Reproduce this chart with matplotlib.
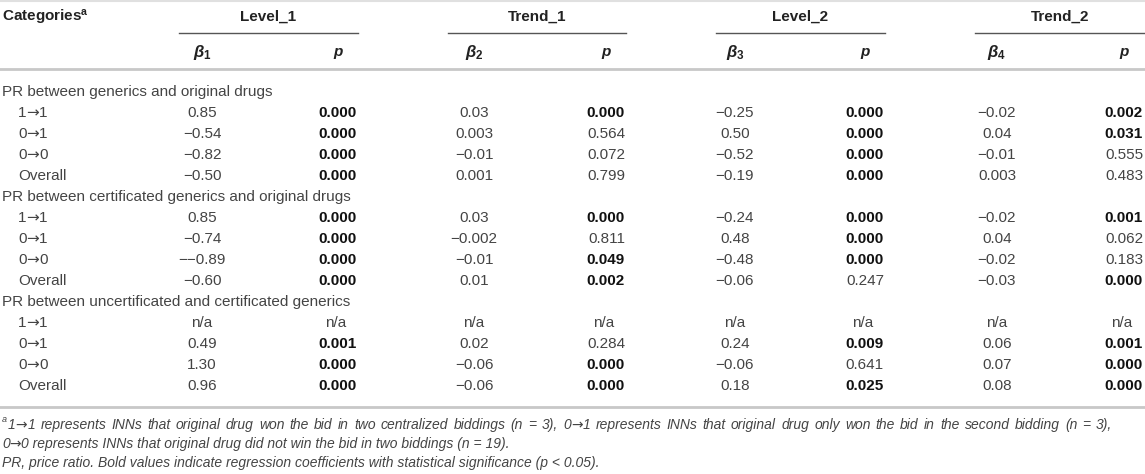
import matplotlib.pyplot as plt

plt.rcParams['font.family'] = ['Liberation Sans', 'DejaVu Sans']
plt.rcParams['mathtext.fontset'] = 'custom'
plt.rcParams['mathtext.rm'] = 'Liberation Sans:bold'
plt.rcParams['mathtext.it'] = 'Liberation Sans:bold:italic'
plt.rcParams['mathtext.bf'] = 'Liberation Sans:bold'

# table content
groups = ['PR between generics and original drugs',
          'PR between certificated generics and original drugs',
          'PR between uncertificated and certificated generics']
categories = ['1→1', '0→1', '0→0', 'Overall']
col_groups = ['Level_1', 'Trend_1', 'Level_2', 'Trend_2']
sub_heads = [r'$\beta_{\mathit{1}}$', 'p', r'$\beta_{\mathit{2}}$', 'p',
             r'$\beta_{\mathit{3}}$', 'p', r'$\beta_{\mathit{4}}$', 'p']

beta1 = ['0.85', '−0.54', '−0.82', '−0.50', '0.85', '−0.74', '−−0.89', '−0.60', 'n/a', '0.49', '1.30', '0.96']
p1 = ['0.000', '0.000', '0.000', '0.000', '0.000', '0.000', '0.000', '0.000', 'n/a', '0.001', '0.000', '0.000']
beta2 = ['0.03', '0.003', '−0.01', '0.001', '0.03', '−0.002', '−0.01', '0.01', 'n/a', '0.02', '−0.06', '−0.06']
p2 = ['0.000', '0.564', '0.072', '0.799', '0.000', '0.811', '0.049', '0.002', 'n/a', '0.284', '0.000', '0.000']
beta3 = ['−0.25', '0.50', '−0.52', '−0.19', '−0.24', '0.48', '−0.48', '−0.06', 'n/a', '0.24', '−0.06', '0.18']
p3 = ['0.000', '0.000', '0.000', '0.000', '0.000', '0.000', '0.000', '0.247', 'n/a', '0.009', '0.641', '0.025']
beta4 = ['−0.02', '0.04', '−0.01', '0.003', '−0.02', '0.04', '−0.02', '−0.03', 'n/a', '0.06', '0.07', '0.08']
p4 = ['0.002', '0.031', '0.555', '0.483', '0.001', '0.062', '0.183', '0.000', 'n/a', '0.001', '0.000', '0.000']

footnote1 = ('1→1 represents INNs that original drug won the bid in two centralized biddings (n = 3), '
             '0→1 represents INNs that original drug only won the bid in the second bidding (n = 3),')
footnote2 = '0→0 represents INNs that original drug did not win the bid in two biddings (n = 19).'
footnote3 = 'PR, price ratio. Bold values indicate regression coefficients with statistical significance (p < 0.05).'

columns = [beta1, p1, beta2, p2, beta3, p3, beta4, p4]

# layout (pixels)
W, H = 1145, 474
group_span = [(179, 358), (448, 626), (716, 885), (975, 1145)]
beta_x = [202, 474, 735, 997]
p_right = [357, 625, 884, 1143]
fs = 11
txt = '#444444'
head = '#222222'

fig = plt.figure(figsize=(W / 100, H / 100), dpi=100)
ax = fig.add_axes([0, 0, 1, 1])
ax.set_xlim(0, W)
ax.set_ylim(H, 0)
ax.axis('off')
rend = fig.canvas.get_renderer()


def draw_arrowtext(x, y, s, keep=True, **kw):
    # the arrow glyph of Liberation Sans is tiny, so draw it in DejaVu Sans
    segs = s.split('→')
    made = []
    for i, seg in enumerate(segs):
        if seg:
            t = ax.text(x, y, seg, va='baseline', **kw)
            made.append(t)
            x += t.get_window_extent(rend).width
        if i < len(segs) - 1:
            akw = dict(kw)
            akw.pop('style', None)
            t = ax.text(x, y, '→', va='baseline', family='DejaVu Sans', **akw)
            made.append(t)
            x += t.get_window_extent(rend).width
    if not keep:
        for t in made:
            t.remove()
    return x


# header
ax.text(2, 17, r'Categories$^{\rm a}$', fontsize=fs, fontweight='bold', color=head, va='center')
for (x0, x1), name in zip(group_span, col_groups):
    ax.text((x0 + x1) / 2, 17, name, fontsize=fs, fontweight='bold', color=head, ha='center', va='center')
    ax.plot([x0, x1], [33, 33], color='#555555', lw=1.0)
for i in range(4):
    ax.text(beta_x[i], 52, sub_heads[2 * i], fontsize=12, color=head, ha='center', va='center')
    ax.text(p_right[i] - 19, 52, 'p', fontsize=fs, fontweight='bold', style='italic',
            color=head, ha='center', va='center')

ax.plot([0, W], [1, 1], color='#e0e0e0', lw=1.5)
ax.plot([0, W], [69, 69], color='#c8c8c8', lw=2.0)
ax.plot([0, W], [407, 407], color='#c8c8c8', lw=2.0)

# body
y = 92
step = 21
for g, gname in enumerate(groups):
    ax.text(2, y, gname, fontsize=fs, color=txt, va='center')
    y += step
    for r, cat in enumerate(categories):
        idx = g * 4 + r
        draw_arrowtext(18, y + 4, cat, fontsize=fs, color=txt)
        for i in range(4):
            bval = columns[2 * i][idx]
            pval = columns[2 * i + 1][idx]
            ax.text(beta_x[i], y, bval, fontsize=fs, color=txt, ha='center', va='center')
            if pval == 'n/a':
                ax.text(p_right[i] - 21, y, pval, fontsize=fs, color=txt, ha='center', va='center')
            else:
                bold = float(pval) < 0.05
                ax.text(p_right[i], y, pval, fontsize=fs, ha='right', va='center',
                        fontweight='bold' if bold else 'normal',
                        color='#111111' if bold else txt)
        y += step

# footnotes
fn_kw = dict(fontsize=10, style='italic', color=txt)


def justified(line, x0, x1, y):
    words = line.split(' ')
    widths = [draw_arrowtext(0, y, w, keep=False, **fn_kw) for w in words]
    gap = (x1 - x0 - sum(widths)) / (len(words) - 1)
    x = x0
    for w, wd in zip(words, widths):
        draw_arrowtext(x, y, w, **fn_kw)
        x += wd + gap


ax.text(2, 419, 'a', fontsize=6.5, style='italic', color=txt, va='center')
justified(footnote1, 8, 1112, 429)
draw_arrowtext(2, 448, footnote2, **fn_kw)
draw_arrowtext(2, 467, footnote3, **fn_kw)

fig.savefig('out.png', dpi=100, facecolor='white')
